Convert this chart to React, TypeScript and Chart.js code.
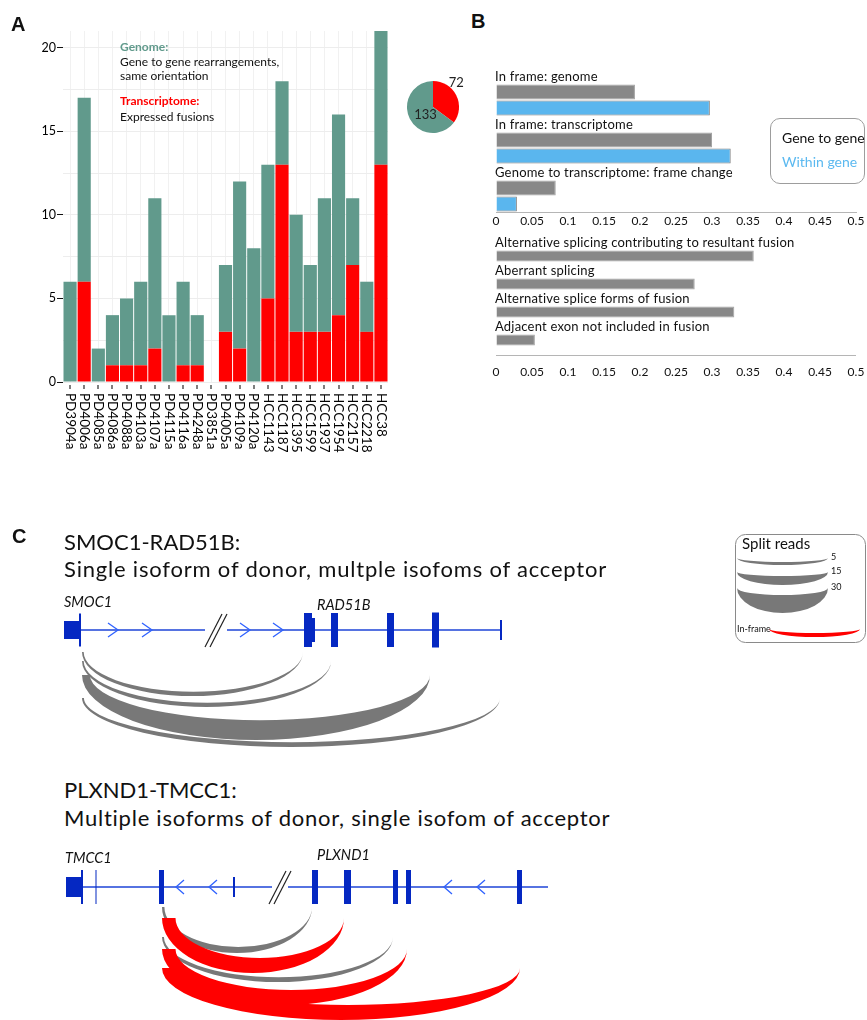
import React, { useEffect, useRef } from 'react';
import { Chart, registerables } from 'chart.js';

Chart.register(...registerables);

const FONT = 'Lato, "Noto Sans", "DejaVu Sans", sans-serif';
Chart.defaults.font.family = FONT;
Chart.defaults.color = '#111';

// ---------------- Panel A data ----------------
const SAMPLES = ['PD3904a', 'PD4006a', 'PD4085a', 'PD4086a', 'PD4088a', 'PD4103a', 'PD4107a', 'PD4115a', 'PD4116a', 'PD4248a', 'PD3851a', 'PD4005a', 'PD4109a', 'PD4120a', 'HCC1143', 'HCC1187', 'HCC1395', 'HCC1599', 'HCC1937', 'HCC1954', 'HCC2157', 'HCC2218', 'HCC38'];
const EXPRESSED = [0, 6, 0, 1, 1, 1, 2, 0, 1, 1, 0, 3, 2, 0, 5, 13, 3, 3, 3, 4, 7, 3, 13];
const GENOME_ONLY = [6, 11, 2, 3, 4, 5, 9, 4, 5, 3, 0, 4, 10, 8, 8, 5, 7, 4, 8, 12, 4, 3, 8];
const A_Y_TICKS = [0, 2.5, 5, 7.5, 10, 12.5, 15, 17.5, 20];
const PIE_LABELS = ['Transcriptome', 'Genome'];
const PIE_VALUES = [72, 133];

// ---------------- Panel B data ----------------
const B1_GROUPS = ['In frame: genome', 'In frame: transcriptome', 'Genome to transcriptome: frame change'];
const B1_GENE_TO_GENE = [0.193, 0.3, 0.083];
const B1_WITHIN_GENE = [0.297, 0.326, 0.029];
const B2_GROUPS = ['Alternative splicing contributing to resultant fusion', 'Aberrant splicing', 'Alternative splice forms of fusion', 'Adjacent exon not included in fusion'];
const B2_VALUES = [0.358, 0.276, 0.331, 0.054];
const B_TICK_VALUES = [0, 0.05, 0.1, 0.15, 0.2, 0.25, 0.3, 0.35, 0.4, 0.45, 0.5];
const B_TICK_LABELS = ['0', '0.05', '0.1', '0.15', '0.2', '0.25', '0.3', '0.35', '0.4', '0.45', '0.5'];

// ---------------- Panel C data ----------------
// exons: [start, end, height]; junctions: [donor, acceptor, offset, depth, split reads, in-frame]
const SMOC1_RAD51B_EXONS = [[64, 79, 18], [79, 81, 33], [304, 312, 34], [304, 315, 24], [331, 338, 34], [387, 394, 34], [432, 439, 35], [500, 502, 20]];
const SMOC1_RAD51B_SPAN = [80, 502];
const SMOC1_RAD51B_BREAK = [205, 227];
const SMOC1_RAD51B_CHEVRONS = [108, 142, 240, 273];
const SMOC1_RAD51B_GENES: [string, number, number][] = [['SMOC1', 64, -28], ['RAD51B', 317, -25]];
const SMOC1_RAD51B_JUNCTIONS = [[82, 303, 22, 44, 7, 0], [82, 331, 31, 46, 7, 0], [82, 500, 68, 49, 8, 0], [82, 430, 45, 65, 33, 0]];

const PLXND1_TMCC1_EXONS = [[66, 82, 20], [81, 83, 34], [95.5, 96.5, 34], [159, 164, 34], [233, 235, 20], [312, 318, 34], [344, 351, 34], [393, 398, 34], [406, 411, 34], [517, 522, 34]];
const PLXND1_TMCC1_SPAN = [82, 548];
const PLXND1_TMCC1_BREAK = [272, 288];
const PLXND1_TMCC1_CHEVRONS = [176, 209, 444, 477];
const PLXND1_TMCC1_GENES: [string, number, number][] = [['TMCC1', 65, -29], ['PLXND1', 317, -32]];
const PLXND1_TMCC1_JUNCTIONS = [[162, 312, 20, 46, 10, 0], [162, 344, 31, 55, 25, 1], [162, 393, 50, 45, 8, 0], [162, 407, 62, 56, 25, 1], [162, 520, 81, 52, 25, 1]];

const SPLIT_READ_LEGEND = [5, 15, 30];

// ---------------- styles ----------------
const GREEN = '#619a8c';
const RED = '#ff0000';
const BAR_GREY = '#888888';
const BAR_BLUE = '#5ab6ee';
const EXON_BLUE = '#0528c2';
const LINE_BLUE = '#1f45d8';
const CHEVRON_BLUE = '#2f62ff';
const ARC_GREY = '#787878';
const READ_PX = 0.6;

const noPlugins = { legend: { display: false }, tooltip: { enabled: false } };

// ---------------- Panel A ----------------
const sampleLabels = {
  id: 'sampleLabels',
  afterDraw(chart: any) {
    const { ctx, chartArea, scales } = chart;
    const x = scales.x;
    ctx.save();
    ctx.fillStyle = '#000';
    ctx.font = `13.5px ${FONT}`;
    SAMPLES.forEach((s, i) => {
      const px = x.getPixelForValue(i);
      ctx.fillRect(Math.round(px) - 0.5, chartArea.bottom + 3, 1, 4);
      ctx.save();
      ctx.translate(px, chartArea.bottom + 11);
      ctx.rotate(Math.PI / 2);
      ctx.textAlign = 'left';
      ctx.textBaseline = 'middle';
      ctx.fillText(s, 0, 0);
      ctx.restore();
    });
    ctx.restore();
  },
};

const makeFusionBars = () => ({
  type: 'bar',
  data: {
    labels: SAMPLES,
    datasets: [
      { label: 'Transcriptome', data: EXPRESSED, backgroundColor: RED, borderWidth: 0, barPercentage: 0.93, categoryPercentage: 1 },
      { label: 'Genome', data: GENOME_ONLY, backgroundColor: GREEN, borderWidth: 0, barPercentage: 0.93, categoryPercentage: 1 },
    ],
  },
  options: {
    responsive: false,
    animation: false,
    layout: { padding: { left: 23, right: 12, top: 31, bottom: 88 } },
    scales: {
      x: {
        stacked: true,
        ticks: { display: false },
        grid: { color: '#f1f1f1', offset: false, drawTicks: false },
        border: { display: false },
        afterFit: (s: any) => { s.height = 0; },
      },
      y: {
        stacked: true,
        min: 0,
        max: 21,
        afterBuildTicks: (s: any) => { s.ticks = A_Y_TICKS.map((v) => ({ value: v })); },
        ticks: {
          callback: (v: any) => (v % 5 === 0 ? String(v) : ''),
          font: { size: 12.5 },
          color: '#000',
          padding: 1,
        },
        grid: {
          color: '#ededed',
          tickLength: 6,
          tickColor: (c: any) => (c.tick && c.tick.value % 5 === 0 ? '#111' : 'rgba(0,0,0,0)'),
        },
        border: { display: false },
        afterFit: (s: any) => { s.width = 40; },
      },
    },
    plugins: noPlugins,
  },
  plugins: [sampleLabels],
});

const PIE_LABEL_RADIUS = [1.28, 0.42];
const PIE_LABEL_SHIFT = [-0.33, -0.35];
const pieLabels = {
  id: 'pieLabels',
  afterDatasetsDraw(chart: any) {
    const { ctx } = chart;
    const meta = chart.getDatasetMeta(0);
    ctx.save();
    ctx.fillStyle = '#222';
    ctx.font = `13px ${FONT}`;
    ctx.textAlign = 'center';
    ctx.textBaseline = 'middle';
    meta.data.forEach((arc: any, i: number) => {
      const p = arc.getProps(['x', 'y', 'startAngle', 'endAngle', 'outerRadius'], true);
      const a = (p.startAngle + p.endAngle) / 2 + PIE_LABEL_SHIFT[i];
      const r = p.outerRadius * PIE_LABEL_RADIUS[i];
      ctx.fillText(String(PIE_VALUES[i]), p.x + r * Math.cos(a), p.y + r * Math.sin(a));
    });
    ctx.restore();
  },
};

const makePie = () => ({
  type: 'pie',
  data: { labels: PIE_LABELS, datasets: [{ data: PIE_VALUES, backgroundColor: [RED, GREEN], borderWidth: 0 }] },
  options: { responsive: false, animation: false, layout: { padding: 7 }, plugins: noPlugins },
  plugins: [pieLabels],
});

// ---------------- Panel B ----------------
const groupLabels = (groups: string[], slots: number) => ({
  id: 'groupLabels',
  afterDatasetsDraw(chart: any) {
    const { ctx, chartArea, scales } = chart;
    const y = scales.y;
    const catH = (chartArea.bottom - chartArea.top) / groups.length;
    ctx.save();
    ctx.fillStyle = '#111';
    ctx.font = `13px ${FONT}`;
    ctx.textAlign = 'left';
    ctx.textBaseline = 'middle';
    (ctx as any).letterSpacing = '0.2px';
    groups.forEach((g, i) => {
      const top = y.getPixelForValue(i) - catH / 2;
      ctx.fillText(g, chartArea.left - 1, top + catH / slots / 2 + 0.5);
    });
    ctx.restore();
  },
});

const offsetAxisLine = (gap: number) => ({
  id: 'offsetAxisLine',
  afterDraw(chart: any) {
    const { ctx, chartArea } = chart;
    const yy = Math.round(chartArea.bottom + gap) + 0.5;
    ctx.save();
    ctx.strokeStyle = '#b5b5b5';
    ctx.lineWidth = 1;
    ctx.beginPath();
    ctx.moveTo(chartArea.left, yy);
    ctx.lineTo(chartArea.right, yy);
    ctx.stroke();
    ctx.restore();
  },
});

const bXAxis = (drop: number, height: number, border: boolean) => ({
  min: 0,
  max: 0.5,
  afterBuildTicks: (s: any) => { s.ticks = B_TICK_VALUES.map((v) => ({ value: v })); },
  ticks: { callback: (_v: any, i: number) => B_TICK_LABELS[i], font: { size: 12 }, color: '#111', padding: 2, maxRotation: 0, autoSkip: false },
  grid: { display: true, drawOnChartArea: false, drawTicks: drop > 0, tickLength: drop, tickColor: 'rgba(0,0,0,0)' },
  border: { display: border, color: '#b5b5b5' },
  afterFit: (s: any) => { s.height = height; },
});

const makeFrameBars = () => ({
  type: 'bar',
  data: {
    labels: B1_GROUPS,
    datasets: [
      { label: '', data: B1_GROUPS.map(() => null), backgroundColor: 'rgba(0,0,0,0)', barPercentage: 0.94, categoryPercentage: 1 },
      { label: 'Gene to gene', data: B1_GENE_TO_GENE, backgroundColor: BAR_GREY, borderColor: '#a3a3a3', borderWidth: 1, barPercentage: 0.94, categoryPercentage: 1 },
      { label: 'Within gene', data: B1_WITHIN_GENE, backgroundColor: BAR_BLUE, borderColor: '#7d7d7d', borderWidth: 1, barPercentage: 0.94, categoryPercentage: 1 },
    ],
  },
  options: {
    indexAxis: 'y',
    responsive: false,
    animation: false,
    layout: { padding: { left: 16, right: 11, top: 8, bottom: 6 } },
    scales: { y: { display: false }, x: bXAxis(0, 22, true) },
    plugins: noPlugins,
  },
  plugins: [groupLabels(B1_GROUPS, 3)],
});

const makeSplicingBars = () => ({
  type: 'bar',
  data: {
    labels: B2_GROUPS,
    datasets: [
      { label: '', data: B2_GROUPS.map(() => null), backgroundColor: 'rgba(0,0,0,0)', barPercentage: 0.8, categoryPercentage: 1 },
      { label: 'Gene to gene', data: B2_VALUES, backgroundColor: BAR_GREY, borderColor: '#a3a3a3', borderWidth: 1, barPercentage: 0.8, categoryPercentage: 1 },
    ],
  },
  options: {
    indexAxis: 'y',
    responsive: false,
    animation: false,
    layout: { padding: { left: 16, right: 11, top: 9, bottom: 3 } },
    scales: { y: { display: false }, x: bXAxis(16, 36, false) },
    plugins: noPlugins,
  },
  plugins: [groupLabels(B2_GROUPS, 2), offsetAxisLine(8)],
});

// ---------------- Panel C ----------------
function crescent(ctx: CanvasRenderingContext2D, x0: number, x1: number, yTop: number, depth: number, th: number, color: string, skew = 0) {
  const cx = (x0 + x1) / 2;
  const rx = (x1 - x0) / 2;
  const s = th * skew;
  ctx.beginPath();
  ctx.ellipse(cx, yTop, rx, depth, 0, 0, Math.PI, false);
  ctx.ellipse(cx + s, yTop, Math.max(rx - s, 0.5), Math.max(depth - th, 0.5), 0, Math.PI, 0, true);
  ctx.closePath();
  ctx.fillStyle = color;
  ctx.fill();
}

type Spec = {
  exons: number[][];
  span: number[];
  gap: number[];
  chevrons: number[];
  dir: number;
  genes: [string, number, number][];
  junctions: number[][];
  yMin: number;
  yMax: number;
  legend: boolean;
};

const geneDiagram = (spec: Spec) => ({
  id: 'geneDiagram',
  afterDraw(chart: any) {
    const { ctx, scales } = chart;
    const X = (v: number) => scales.x.getPixelForValue(v);
    const Y = (v: number) => scales.y.getPixelForValue(v);
    const H = (v: number) => Y(v) - Y(0);
    const y0 = Y(0);
    ctx.save();
    // intron line with break
    ctx.strokeStyle = LINE_BLUE;
    ctx.lineWidth = 1.6;
    ctx.beginPath();
    ctx.moveTo(X(spec.span[0]), y0);
    ctx.lineTo(X(spec.gap[0]), y0);
    ctx.moveTo(X(spec.gap[1]), y0);
    ctx.lineTo(X(spec.span[1]), y0);
    ctx.stroke();
    // break marks
    const gc = (X(spec.gap[0]) + X(spec.gap[1])) / 2;
    ctx.strokeStyle = '#222';
    ctx.lineWidth = 1.2;
    [-2.5, 2.5].forEach((d) => {
      ctx.beginPath();
      ctx.moveTo(gc + d - 8.5, y0 + H(17));
      ctx.lineTo(gc + d + 8.5, y0 - H(16));
      ctx.stroke();
    });
    // chevrons
    ctx.strokeStyle = CHEVRON_BLUE;
    ctx.lineWidth = 1.3;
    spec.chevrons.forEach((c) => {
      const a = X(c);
      const w = spec.dir > 0 ? 10 : 8;
      ctx.beginPath();
      if (spec.dir > 0) {
        ctx.moveTo(a, y0 - H(7));
        ctx.lineTo(a + w, y0);
        ctx.lineTo(a, y0 + H(7));
      } else {
        ctx.moveTo(a + w, y0 - H(7));
        ctx.lineTo(a, y0);
        ctx.lineTo(a + w, y0 + H(7));
      }
      ctx.stroke();
    });
    // exons
    ctx.fillStyle = EXON_BLUE;
    spec.exons.forEach(([s, e, h]) => {
      ctx.fillRect(X(s), y0 - H(h / 2), X(e) - X(s), H(h));
    });
    // gene names
    ctx.fillStyle = '#111';
    ctx.font = `italic 14.5px ${FONT}`;
    ctx.textAlign = 'left';
    ctx.textBaseline = 'middle';
    spec.genes.forEach(([n, gx, gy]) => ctx.fillText(n, X(gx), Y(gy)));
    // junction arcs
    spec.junctions.forEach(([d, a, off, depth, reads, inFrame]) => {
      crescent(ctx, X(d), X(a), Y(off), H(depth), H(reads * READ_PX), inFrame ? RED : ARC_GREY, inFrame ? 0.45 : 0.2);
    });
    // legend
    if (spec.legend) {
      const bx = 735, by = 534 - 525, bw = 130, bh = 108;
      ctx.strokeStyle = '#8a8a8a';
      ctx.lineWidth = 1;
      ctx.beginPath();
      ctx.roundRect(bx + 0.5, by + 0.5, bw, bh, 10);
      ctx.stroke();
      ctx.fillStyle = '#111';
      ctx.font = `15px ${FONT}`;
      ctx.fillText('Split reads', bx + 7, by + 10);
      const tops = [33, 47, 63];
      const depths = [7, 13, 25];
      ctx.font = `9px ${FONT}`;
      SPLIT_READ_LEGEND.forEach((r, i) => {
        crescent(ctx, 737, 828, tops[i], depths[i], r * READ_PX, ARC_GREY);
        ctx.fillStyle = '#111';
        ctx.fillText(String(r), 831, tops[i] - 1);
      });
      ctx.fillStyle = '#111';
      ctx.fillText('In-frame', 737, 104);
      crescent(ctx, 769, 860, 104, 8, 4, RED);
    }
    ctx.restore();
  },
});

const makeDiagram = (spec: Spec) => () => ({
  type: 'scatter',
  data: { datasets: [] },
  options: {
    responsive: false,
    animation: false,
    layout: { padding: 0 },
    scales: {
      x: { type: 'linear', min: 0, max: 867, display: false },
      y: { type: 'linear', min: spec.yMin, max: spec.yMax, reverse: true, display: false },
    },
    plugins: noPlugins,
  },
  plugins: [geneDiagram(spec)],
});

const TOP_SPEC: Spec = {
  exons: SMOC1_RAD51B_EXONS, span: SMOC1_RAD51B_SPAN, gap: SMOC1_RAD51B_BREAK, chevrons: SMOC1_RAD51B_CHEVRONS,
  dir: 1, genes: SMOC1_RAD51B_GENES, junctions: SMOC1_RAD51B_JUNCTIONS, yMin: -105, yMax: 130, legend: true,
};
const BOTTOM_SPEC: Spec = {
  exons: PLXND1_TMCC1_EXONS, span: PLXND1_TMCC1_SPAN, gap: PLXND1_TMCC1_BREAK, chevrons: PLXND1_TMCC1_CHEVRONS,
  dir: -1, genes: PLXND1_TMCC1_GENES, junctions: PLXND1_TMCC1_JUNCTIONS, yMin: -47, yMax: 133, legend: false,
};

// ---------------- components ----------------
function ChartBox({ left, top, width, height, make }: { left: number; top: number; width: number; height: number; make: () => any }) {
  const ref = useRef<HTMLCanvasElement>(null);
  useEffect(() => {
    const chart = new Chart(ref.current as HTMLCanvasElement, make());
    return () => chart.destroy();
  }, []);
  return <canvas ref={ref} width={width} height={height} style={{ position: 'absolute', left, top, width, height, display: 'block' }} />;
}

function T({ x, y, size, children, color = '#111', weight = 400, family = FONT, spacing = 0 }: any) {
  const lh = Math.round(size * 1.2);
  return (
    <div style={{ position: 'absolute', left: x, top: y - lh / 2, fontSize: size, lineHeight: `${lh}px`, color, fontWeight: weight, fontFamily: family, whiteSpace: 'nowrap', letterSpacing: spacing }}>
      {children}
    </div>
  );
}

const ARIAL = '"Liberation Sans", Arial, sans-serif';

export default function App() {
  return (
    <div style={{ position: 'absolute', left: 0, top: 0, width: 867, height: 1020, background: '#fff', overflow: 'hidden', fontFamily: FONT }}>
      <ChartBox left={0} top={0} width={400} height={470} make={makeFusionBars} />
      <ChartBox left={400} top={74} width={66} height={66} make={makePie} />
      <ChartBox left={480} top={60} width={387} height={180} make={makeFrameBars} />
      <ChartBox left={480} top={226} width={387} height={160} make={makeSplicingBars} />
      <ChartBox left={0} top={525} width={867} height={235} make={makeDiagram(TOP_SPEC)} />
      <ChartBox left={0} top={840} width={867} height={180} make={makeDiagram(BOTTOM_SPEC)} />

      <T x={11} y={24} size={20} weight={700} family={ARIAL}>A</T>
      <T x={471} y={20.5} size={20} weight={700} family={ARIAL}>B</T>
      <T x={12} y={535.5} size={20} weight={700} family={ARIAL}>C</T>

      <T x={120} y={47} size={12} weight={700} color={GREEN}>Genome:</T>
      <T x={120} y={62} size={12}>Gene to gene rearrangements,</T>
      <T x={120} y={76} size={12}>same orientation</T>
      <T x={120} y={101} size={12} weight={700} color={RED}>Transcriptome:</T>
      <T x={120} y={116.5} size={12}>Expressed fusions</T>

      <div style={{ position: 'absolute', left: 770, top: 118, width: 95, height: 66, border: '1px solid #9d9d9d', borderRadius: 10, boxSizing: 'border-box' }} />
      <T x={782} y={137} size={14}>Gene to gene</T>
      <T x={782} y={161} size={14} color="#5bb9f0">Within gene</T>

      <T x={64} y={542} size={22}>SMOC1-RAD51B:</T>
      <T x={64} y={569} size={22} spacing={0.8}>Single isoform of donor, multple isofoms of acceptor</T>
      <T x={64} y={790} size={22}>PLXND1-TMCC1:</T>
      <T x={64} y={818} size={22} spacing={0.75}>Multiple isoforms of donor, single isofom of acceptor</T>
    </div>
  );
}
